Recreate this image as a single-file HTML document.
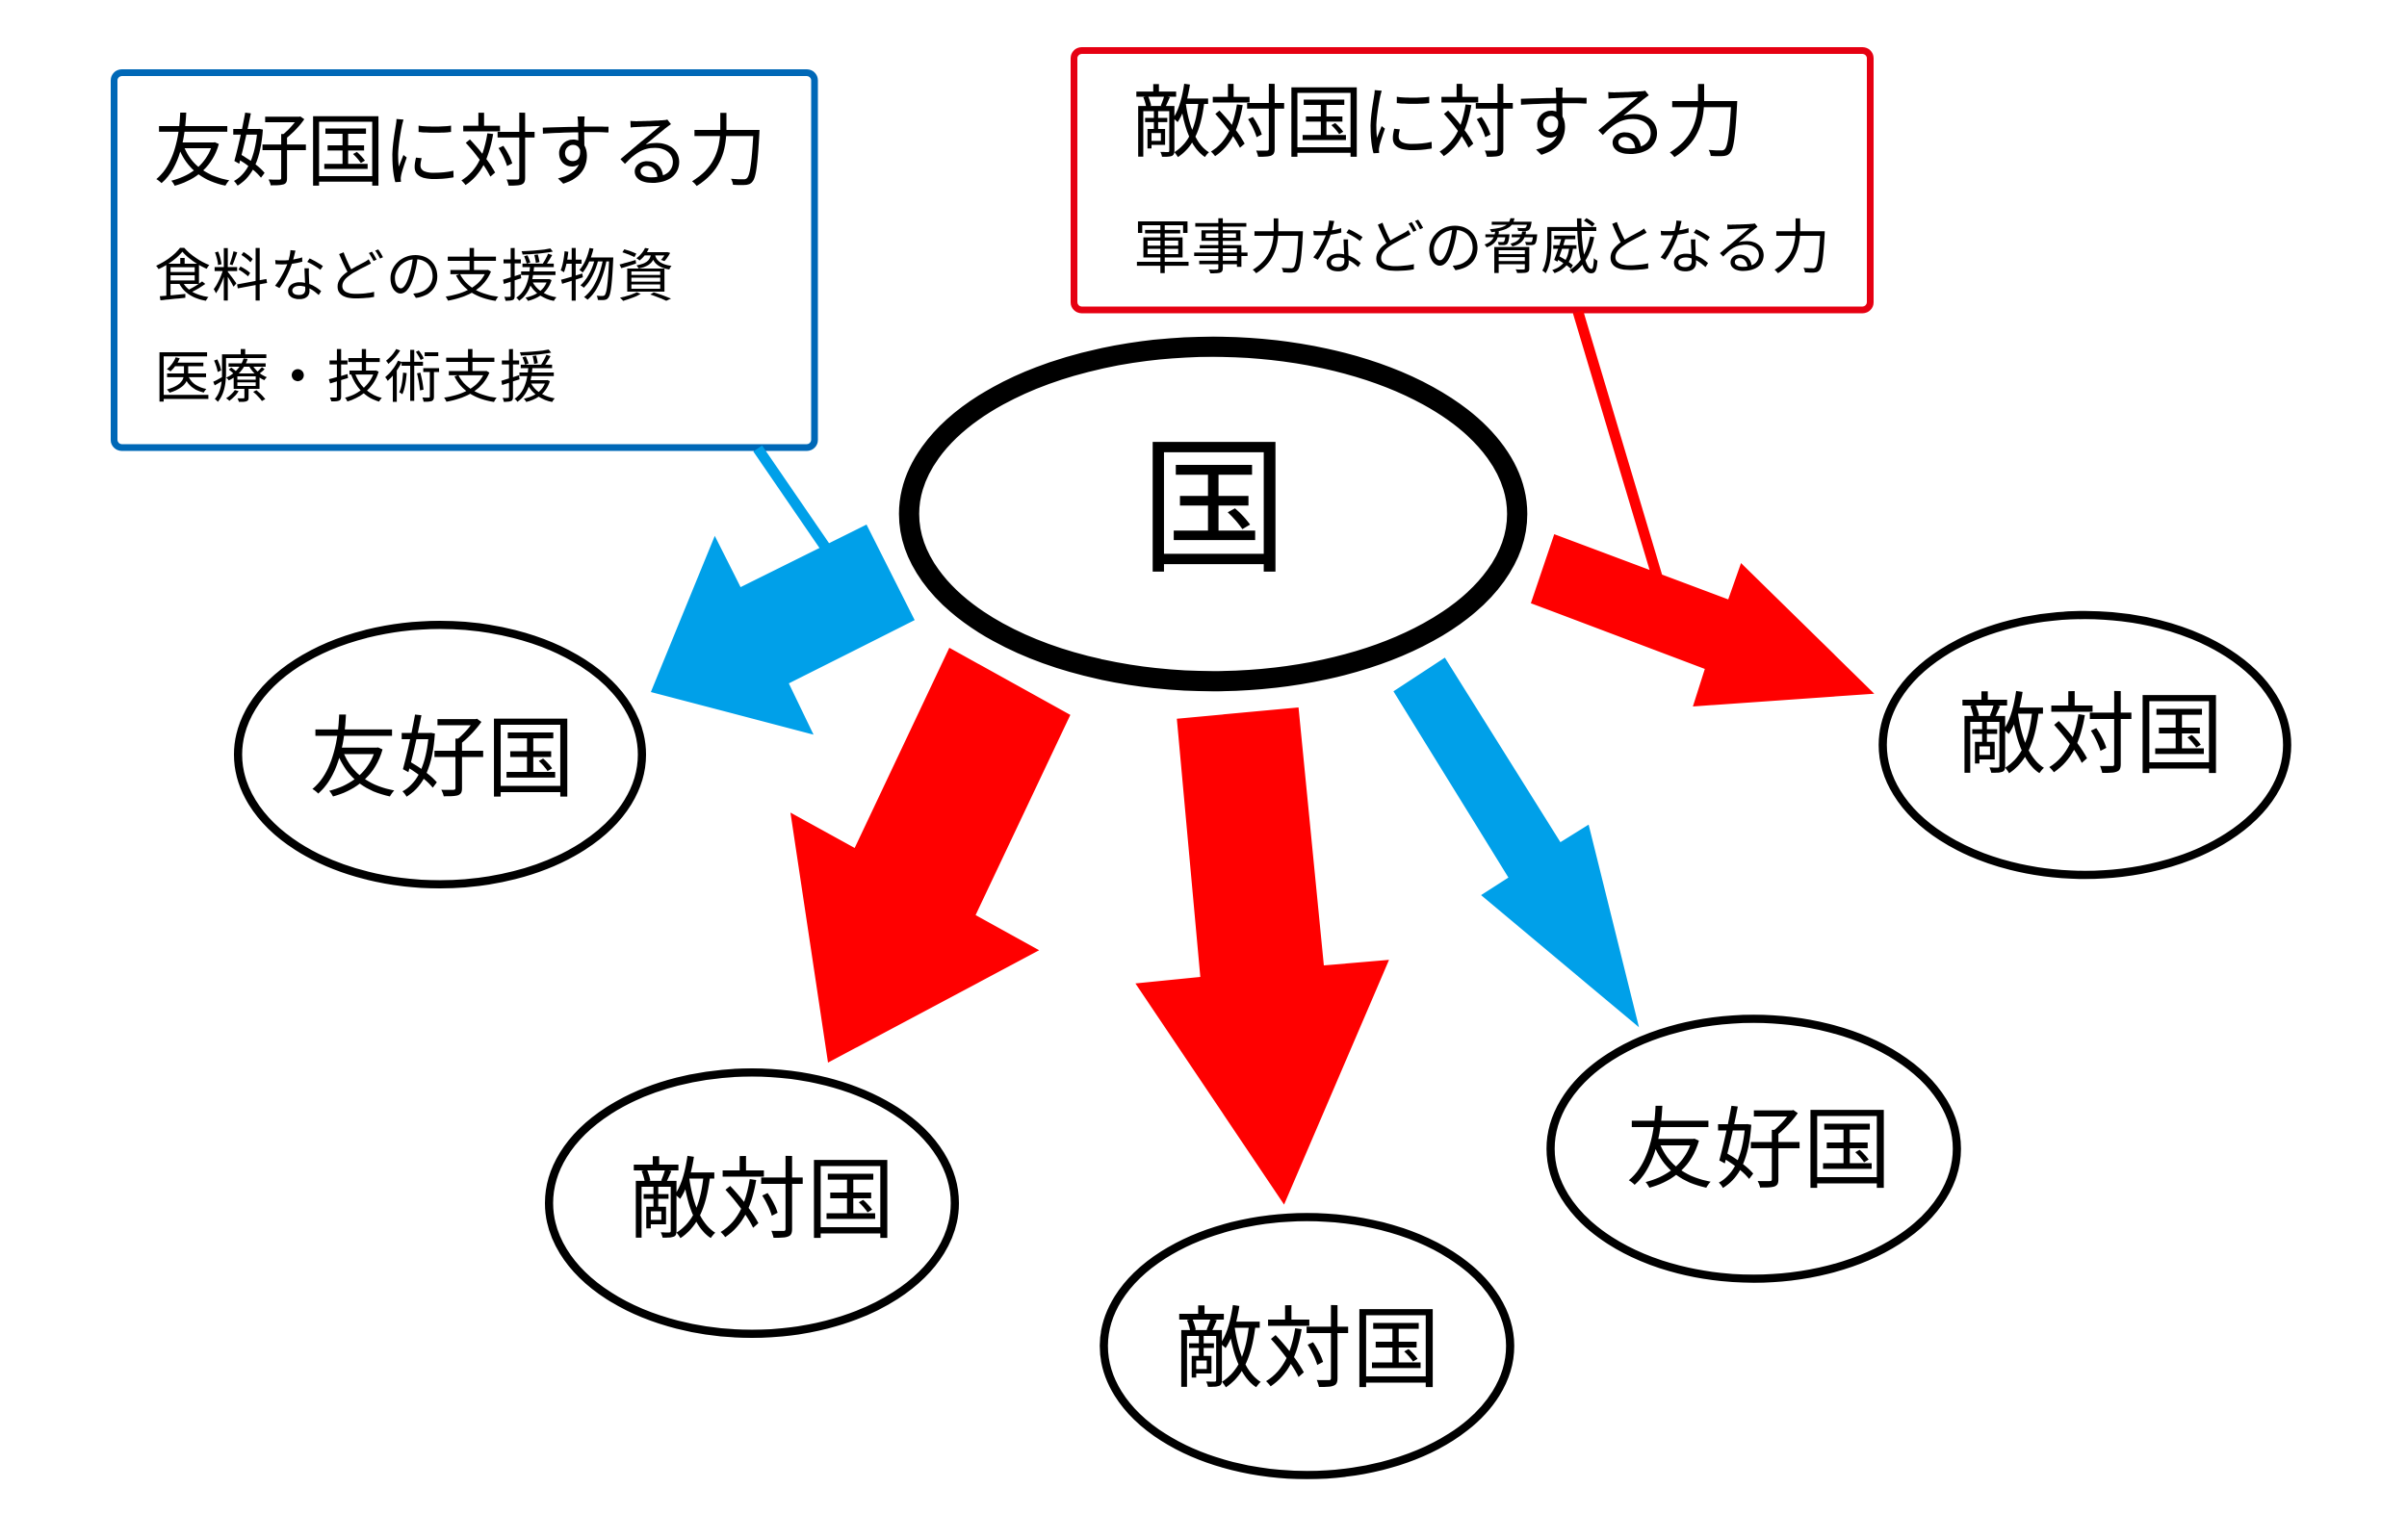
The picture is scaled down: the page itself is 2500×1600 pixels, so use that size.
<!DOCTYPE html>
<html>
<head>
<meta charset="utf-8">
<style>
  html, body { margin: 0; padding: 0; background: #ffffff; }
  svg { display: block; }
  text { font-family: "Liberation Sans", "Noto Sans CJK JP", sans-serif; fill: #000; }
</style>
</head>
<body>
<svg width="2500" height="1600" viewBox="0 0 2500 1600" xmlns="http://www.w3.org/2000/svg">
  <rect x="0" y="0" width="2500" height="1600" fill="#ffffff"/>

  <!-- Blue callout box -->
  <rect x="118.5" y="75.5" width="727.5" height="389.5" rx="8" ry="8" fill="#ffffff" stroke="#0068b7" stroke-width="7"/>
  <text x="159.5" y="186" font-size="82" textLength="637" lengthAdjust="spacing">友好国に対する力</text>
  <text x="160" y="307.6" font-size="59.3" textLength="540" lengthAdjust="spacing">食料などの支援物資</text>
  <text x="160" y="412.7" font-size="59.3" textLength="418" lengthAdjust="spacing">医療・技術支援</text>

  <!-- Red callout box -->
  <rect x="1115.5" y="52.5" width="827" height="269.5" rx="8" ry="8" fill="#ffffff" stroke="#e60012" stroke-width="7"/>
  <text x="1176" y="156" font-size="82" textLength="636" lengthAdjust="spacing">敵対国に対する力</text>
  <text x="1177" y="278.4" font-size="61.1" textLength="724" lengthAdjust="spacing">軍事力などの脅威となる力</text>

  <!-- connector lines -->
  <line x1="787" y1="466" x2="872" y2="590" stroke="#00a0e9" stroke-width="11"/>
  <line x1="1639" y1="324" x2="1725" y2="612" stroke="#ff0000" stroke-width="11"/>

  <!-- arrows -->
  <polygon fill="#00a0e9" points="900,545 769.2,610 742.4,556.7 676,719 845,763.3 819.3,710 950,644.3"/>
  <polygon fill="#ff0000" points="986,673 1111.7,742.7 1013.3,950.7 1079.3,987.3 860,1104 821,844.3 887.7,881"/>
  <polygon fill="#ff0000" points="1222.3,746.7 1348.7,735 1375,1003 1442.7,997.3 1333.7,1251.5 1179.3,1021.7 1246.7,1015"/>
  <polygon fill="#00a0e9" points="1447.3,718.3 1500.7,683.3 1620.7,875 1650,856.7 1702.3,1067.3 1538.3,930 1566.7,911.7"/>
  <polygon fill="#ff0000" points="1614.3,555 1795,622.7 1808.3,585 1946.7,720.7 1758.3,734 1770.7,695 1590,626.7"/>

  <!-- central ellipse -->
  <ellipse cx="1260" cy="534" rx="315.8" ry="173.7" fill="#ffffff" stroke="#000" stroke-width="21"/>
  <text x="1261" y="581.5" font-size="154" text-anchor="middle">国</text>

  <!-- small ellipses -->
  <ellipse cx="457" cy="784" rx="209.75" ry="134.75" fill="#ffffff" stroke="#000" stroke-width="8.5"/>
  <text x="459.2" y="820" font-size="92" text-anchor="middle" textLength="276" lengthAdjust="spacing">友好国</text>

  <ellipse cx="781" cy="1250" rx="210.75" ry="135.75" fill="#ffffff" stroke="#000" stroke-width="8.5"/>
  <text x="791.5" y="1278.5" font-size="92" text-anchor="middle" textLength="276" lengthAdjust="spacing">敵対国</text>

  <ellipse cx="1357.5" cy="1398.5" rx="211" ry="134" fill="#ffffff" stroke="#000" stroke-width="8.5"/>
  <text x="1358" y="1433.6" font-size="92" text-anchor="middle" textLength="276" lengthAdjust="spacing">敵対国</text>

  <ellipse cx="1821.5" cy="1193.5" rx="211" ry="135" fill="#ffffff" stroke="#000" stroke-width="8.5"/>
  <text x="1826.5" y="1226.3" font-size="92" text-anchor="middle" textLength="276" lengthAdjust="spacing">友好国</text>

  <ellipse cx="2165.5" cy="774" rx="210" ry="135" fill="#ffffff" stroke="#000" stroke-width="8.5"/>
  <text x="2171.5" y="795.6" font-size="92" text-anchor="middle" textLength="276" lengthAdjust="spacing">敵対国</text>
</svg>
</body>
</html>
